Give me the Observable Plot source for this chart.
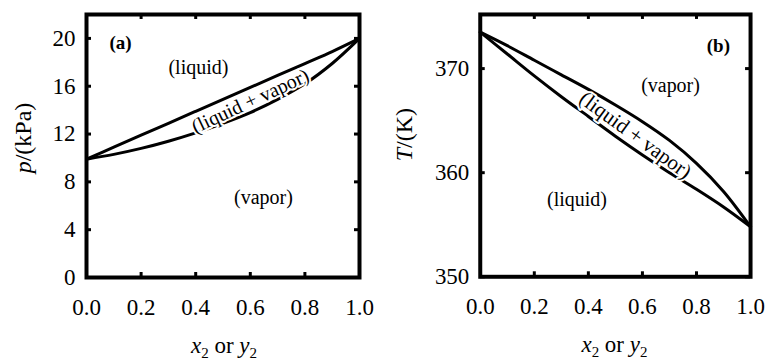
<!DOCTYPE html>
<html><head><meta charset="utf-8">
<script src="https://cdn.jsdelivr.net/npm/d3@7"></script>
<script src="https://cdn.jsdelivr.net/npm/@observablehq/plot@0.6"></script>
<style>
body{margin:0;background:#fff;}
#wrap{position:relative;width:769px;height:360px;overflow:hidden;}
#pa{position:absolute;left:0;top:0;}
#pb{position:absolute;left:385px;top:0;}
svg{overflow:visible;}
</style></head><body><div id="wrap"><div id="pa"></div><div id="pb"></div></div>
<script>
// mole fraction of component 2 (x2 for liquid, y2 for vapor)
const composition = [0, 0.1, 0.2, 0.3, 0.4, 0.5, 0.6, 0.7, 0.8, 0.9, 1.0];
// (a) pressure, kPa
const pressureLiquidLine = [9.9, 10.9, 11.9, 12.9, 13.9, 14.9, 15.9, 16.9, 17.9, 18.9, 20.0];
const pressureVaporLine  = [9.9, 10.3, 10.8, 11.4, 12.1, 12.9, 13.8, 14.9, 16.2, 17.9, 20.0];
// (b) temperature, K
const tempVaporLine  = [373.5, 372.2, 370.8, 369.4, 368.0, 366.5, 364.9, 363.1, 360.9, 358.2, 354.8];
const tempLiquidLine = [373.5, 371.4, 369.3, 367.3, 365.4, 363.5, 361.7, 360.0, 358.4, 356.7, 354.8];
// ticks
const xTicks = [0, 0.2, 0.4, 0.6, 0.8, 1.0];
const pTicks = [0, 4, 8, 12, 16, 20];
const tTicks = [350, 360, 370];

const font = "'Liberation Serif', 'Times New Roman', serif";
const W = 385, H = 360, MT = 14, MB = 83;

function lineRows(ys, key) {
  return composition.map((c, i) => ({c, v: ys[i], s: key}));
}

function finish(svg, xc, yLabelX, yLabelY, yParts) {
  const s = d3.select(svg);
  const xl = s.append("text")
    .attr("x", xc).attr("y", 353)
    .attr("text-anchor", "middle")
    .attr("font-size", 23).attr("fill", "black");
  xl.append("tspan").attr("font-style", "italic").text("x");
  xl.append("tspan").attr("font-size", 15).attr("dy", 5).text("2");
  xl.append("tspan").attr("dy", -5).text(" or ");
  xl.append("tspan").attr("font-style", "italic").text("y");
  xl.append("tspan").attr("font-size", 15).attr("dy", 5).text("2");
  const yl = s.append("text")
    .attr("transform", `translate(${yLabelX},${yLabelY}) rotate(-90)`)
    .attr("text-anchor", "middle")
    .attr("font-size", 24).attr("fill", "black");
  yParts.forEach(([t, it]) => {
    const ts = yl.append("tspan").text(t);
    if (it) ts.attr("font-style", "italic");
  });
  s.style("font-family", font);
  s.selectAll("text").attr("font-family", font).style("font-family", font);
}

function panel({ml, mr, yDomain, yTicks, rows, yFormat, texts}) {
  const ih = H - MT - MB, iw = W - ml - mr;
  return Plot.plot({
    width: W, height: H,
    marginLeft: ml, marginRight: mr, marginTop: MT, marginBottom: MB,
    style: {fontFamily: font, background: "white", color: "black", overflow: "visible"},
    x: {domain: [0, 1]},
    y: {domain: yDomain},
    marks: [
      Plot.line(rows, {x: "c", y: "v", z: "s", stroke: "black", strokeWidth: 3, curve: "catmull-rom"}),
      Plot.tickX(xTicks.slice(1, -1), {x: d => d, insetTop: ih - 5, strokeWidth: 3}),
      Plot.tickX(xTicks.slice(1, -1), {x: d => d, insetBottom: ih - 5, strokeWidth: 3}),
      Plot.tickY(yTicks, {y: d => d, insetRight: iw - 5, strokeWidth: 3}),
      Plot.tickY(yTicks, {y: d => d, insetLeft: iw - 5, strokeWidth: 3}),
      Plot.frame({strokeWidth: 4}),
      Plot.axisX({ticks: xTicks, tickSize: 0, tickPadding: 21, fontSize: 23, tickFormat: d3.format(".1f"), label: null}),
      Plot.axisY({ticks: yTicks, tickSize: 0, tickPadding: 11, fontSize: 23, tickFormat: yFormat, label: null}),
      ...texts
    ]
  });
}

const band = {fill: "black", stroke: "white", strokeWidth: 4, paintOrder: "stroke"};

const rowsA = [...lineRows(pressureLiquidLine, "liquid"), ...lineRows(pressureVaporLine, "vapor")];
const svgA = panel({
  ml: 86, mr: 26, yDomain: [0, 22], yTicks: pTicks, rows: rowsA, yFormat: d3.format("d"),
  texts: [
    Plot.text(["(a)"], {x: 0.125, y: 19.6, text: d => d, fontSize: 19, fontWeight: "bold"}),
    Plot.text(["(liquid)"], {x: 0.41, y: 17.6, text: d => d, fontSize: 20}),
    Plot.text(["(vapor)"], {x: 0.648, y: 6.7, text: d => d, fontSize: 20}),
    Plot.text(["(liquid + vapor)"], {x: 0.6, y: 14.75, text: d => d, rotate: -25, fontSize: 20, ...band})
  ]
});
finish(svgA, 224, 31, 138, [["p", true], ["/(kPa)", false]]);
document.getElementById("pa").appendChild(svgA);

const rowsB = [...lineRows(tempVaporLine, "vapor"), ...lineRows(tempLiquidLine, "liquid")];
const svgB = panel({
  ml: 95, mr: 19, yDomain: [350, 375.2], yTicks: tTicks, rows: rowsB, yFormat: d3.format("d"),
  texts: [
    Plot.text(["(b)"], {x: 0.881, y: 372.2, text: d => d, fontSize: 19, fontWeight: "bold"}),
    Plot.text(["(vapor)"], {x: 0.704, y: 368.4, text: d => d, fontSize: 20}),
    Plot.text(["(liquid)"], {x: 0.358, y: 357.4, text: d => d, fontSize: 20}),
    Plot.text(["(liquid + vapor)"], {x: 0.574, y: 363.6, text: d => d, rotate: 36, fontSize: 21, ...band})
  ]
});
finish(svgB, 230, 27, 135, [["T", true], ["/(K)", false]]);
document.getElementById("pb").appendChild(svgB);
</script></body></html>
